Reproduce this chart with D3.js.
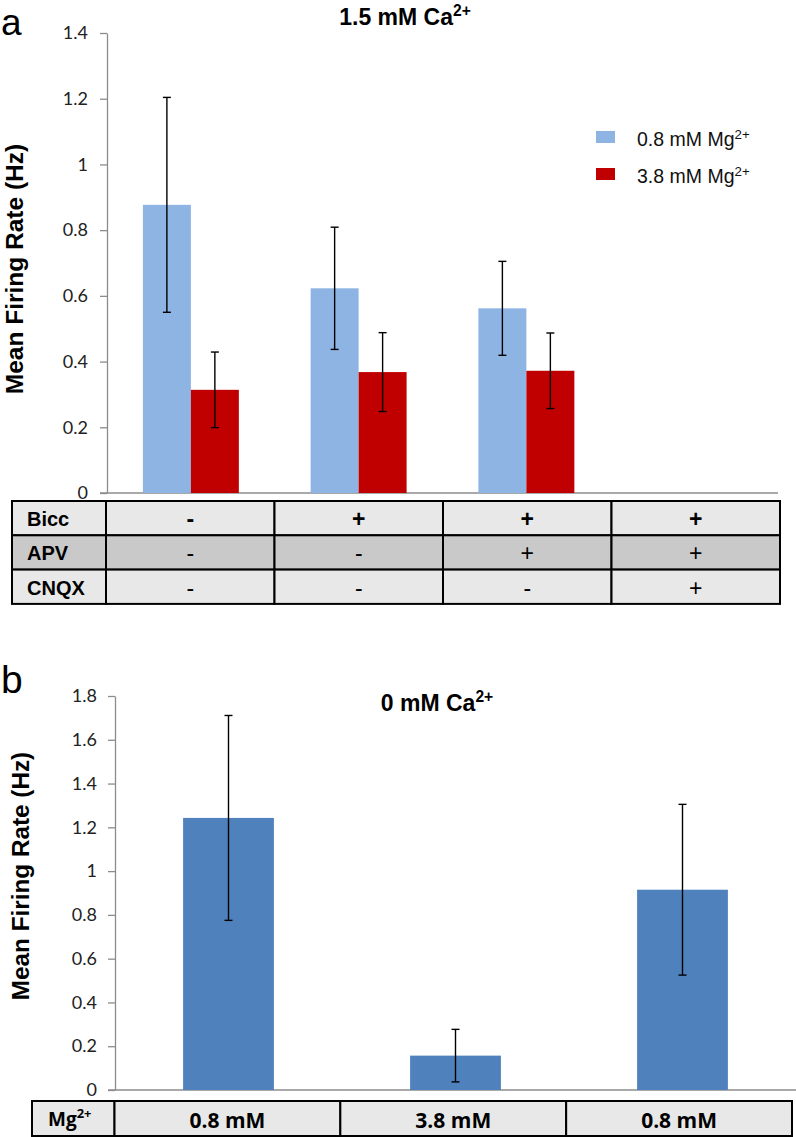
<!DOCTYPE html>
<html><head><meta charset="utf-8">
<script src="https://cdn.jsdelivr.net/npm/d3@7/dist/d3.min.js"></script>
<style>body{margin:0;background:#fff}svg{display:block}</style>
</head><body>
<svg id="c" width="796" height="1137"></svg>
<script>
// ---------- Panel a data ----------
const groupsA = ["G1", "G2", "G3", "G4"];
const seriesA = ["0.8 mM Mg", "3.8 mM Mg"];
const lowMg = [0.877, 0.623, 0.562, null];
const lowMgErr = [0.327, 0.186, 0.143, null];
const highMg = [0.314, 0.368, 0.372, null];
const highMgErr = [0.115, 0.120, 0.115, null];
const ticksA = [0, 0.2, 0.4, 0.6, 0.8, 1, 1.2, 1.4];
const rowLabelsA = ["Bicc", "APV", "CNQX"];
const biccRow = ["-", "+", "+", "+"];
const apvRow = ["-", "-", "+", "+"];
const cnqxRow = ["-", "-", "-", "+"];

// ---------- Panel b data ----------
const groupsB = ["0.8 mM", "3.8 mM", "0.8 mM"];
const valuesB = [1.243, 0.157, 0.915];
const errB = [0.468, 0.12, 0.39];
const ticksB = [0, 0.2, 0.4, 0.6, 0.8, 1, 1.2, 1.4, 1.6, 1.8];

const colLow = "#8db4e2", colHigh = "#c00000", colB = "#4f81bd";
const svg = d3.select("#c");
const fmt = d => String(+d.toFixed(1));
const tickFont = "Lato, 'Open Sans', sans-serif";
const arial = "Arial, 'Liberation Sans', sans-serif";

function supText(sel, base, sup, size) {
  sel.append("tspan").text(base);
  sel.append("tspan").text(sup).attr("font-size", size * 0.68).attr("dy", -size * 0.38);
}

// =============== Panel a ===============
{
  const x0 = 107, x1 = 778, yTop = 33, yBot = 493;
  const x = d3.scaleBand().domain(groupsA).range([x0, x1]).paddingInner(0.428).paddingOuter(0.214);
  const xs = d3.scaleBand().domain(seriesA).range([0, x.bandwidth()]);
  const y = d3.scaleLinear().domain([0, 1.4]).range([yBot, yTop]);

  const g = svg.append("g");
  const ax = g.append("g").attr("transform", `translate(${x0},0)`)
    .call(d3.axisLeft(y).tickValues(ticksA).tickFormat(fmt).tickSize(7).tickSizeOuter(0).tickPadding(12));
  ax.select(".domain").attr("stroke", "#8c8c8c").attr("stroke-width", 1.3);
  ax.selectAll(".tick line").attr("stroke", "#8c8c8c").attr("stroke-width", 1.3);
  ax.selectAll(".tick text").attr("font-family", tickFont).attr("font-size", 18).attr("fill", "#222");
  g.append("line").attr("x1", 100).attr("x2", x1).attr("y1", y(0)).attr("y2", y(0))
    .attr("stroke", "#8c8c8c").attr("stroke-width", 1.3);

  const series = [
    {key: seriesA[0], vals: lowMg, errs: lowMgErr, color: colLow},
    {key: seriesA[1], vals: highMg, errs: highMgErr, color: colHigh}
  ];
  series.forEach(s => {
    const data = groupsA.map((gname, i) => ({g: gname, v: s.vals[i], e: s.errs[i]})).filter(d => d.v != null);
    g.selectAll(null).data(data).enter().append("rect")
      .attr("x", d => x(d.g) + xs(s.key)).attr("width", xs.bandwidth())
      .attr("y", d => y(d.v)).attr("height", d => y(0) - y(d.v)).attr("fill", s.color);
    const eg = g.selectAll(null).data(data).enter().append("g")
      .attr("stroke", "#000").attr("stroke-width", 1.4);
    const cx = d => x(d.g) + xs(s.key) + xs.bandwidth() / 2;
    eg.append("line").attr("x1", cx).attr("x2", cx).attr("y1", d => y(d.v + d.e)).attr("y2", d => y(d.v - d.e));
    eg.append("line").attr("x1", d => cx(d) - 4).attr("x2", d => cx(d) + 4).attr("y1", d => y(d.v + d.e)).attr("y2", d => y(d.v + d.e));
    eg.append("line").attr("x1", d => cx(d) - 4).attr("x2", d => cx(d) + 4).attr("y1", d => y(d.v - d.e)).attr("y2", d => y(d.v - d.e));
  });

  // legend
  series.forEach((s, i) => {
    const ly = 131 + i * 37;
    g.append("rect").attr("x", 596).attr("y", ly).attr("width", 19).attr("height", 12).attr("fill", s.color);
    const t = g.append("text").attr("x", 637).attr("y", ly + 15).attr("font-family", arial)
      .attr("font-size", 19.5).attr("fill", "#111");
    supText(t, s.key, "2+", 19.5);
  });

  // title
  const tt = g.append("text").attr("x", 405).attr("y", 25).attr("text-anchor", "middle")
    .attr("font-family", arial).attr("font-weight", "bold").attr("font-size", 23);
  supText(tt, "1.5 mM Ca", "2+", 23);
  g.append("text").attr("x", 1).attr("y", 35).attr("font-family", arial)
    .attr("font-size", 37).text("a");
  g.append("text").attr("transform", "translate(14,269) rotate(-90)").attr("text-anchor", "middle")
    .attr("dominant-baseline", "central").attr("font-family", arial)
    .attr("font-weight", "bold").attr("font-size", 24.5).text("Mean Firing Rate (Hz)");

  // table
  const rowsA = [biccRow, apvRow, cnqxRow];
  const rowFills = ["#e8e8e8", "#c9c9c9", "#e8e8e8"];
  const tTop = 501, rh = 34.3, tLeft = 12, labW = 106;
  const colX = d3.scaleBand().domain(groupsA).range([labW, 780]);
  rowsA.forEach((row, r) => {
    const ry = tTop + r * rh;
    g.append("rect").attr("x", tLeft).attr("y", ry).attr("width", labW - tLeft).attr("height", rh)
      .attr("fill", rowFills[r]).attr("stroke", "#000").attr("stroke-width", 2);
    g.append("text").attr("x", 27).attr("y", ry + rh / 2 + 1).attr("dominant-baseline", "central")
      .attr("font-family", arial).attr("font-weight", "bold").attr("font-size", 20)
      .text(rowLabelsA[r]);
    groupsA.forEach((gname, i) => {
      g.append("rect").attr("x", colX(gname)).attr("y", ry).attr("width", colX.bandwidth()).attr("height", rh)
        .attr("fill", rowFills[r]).attr("stroke", "#000").attr("stroke-width", 2);
      g.append("text").attr("x", colX(gname) + colX.bandwidth() / 2).attr("y", ry + rh / 2 + 1)
        .attr("text-anchor", "middle").attr("dominant-baseline", "central")
        .attr("font-family", arial).attr("font-weight", r === 0 ? "bold" : "normal")
        .attr("font-size", 23).text(row[i]);
    });
  });
}

// =============== Panel b ===============
{
  const x0 = 115, x1 = 796, yTop = 696, yBot = 1090;
  const idx = groupsB.map((d, i) => i);
  const x = d3.scaleBand().domain(idx).range([x0, x1]).paddingInner(0.6).paddingOuter(0.3);
  const y = d3.scaleLinear().domain([0, 1.8]).range([yBot, yTop]);
  const g = svg.append("g");
  const ax = g.append("g").attr("transform", `translate(${x0},0)`)
    .call(d3.axisLeft(y).tickValues(ticksB).tickFormat(fmt).tickSize(7).tickSizeOuter(0).tickPadding(11));
  ax.select(".domain").attr("stroke", "#8c8c8c").attr("stroke-width", 1.3);
  ax.selectAll(".tick line").attr("stroke", "#8c8c8c").attr("stroke-width", 1.3);
  ax.selectAll(".tick text").attr("font-family", tickFont).attr("font-size", 18).attr("fill", "#222");
  g.append("line").attr("x1", 108).attr("x2", x1).attr("y1", y(0)).attr("y2", y(0))
    .attr("stroke", "#8c8c8c").attr("stroke-width", 1.3);

  const data = idx.map(i => ({i, v: valuesB[i], e: errB[i]}));
  g.selectAll(null).data(data).enter().append("rect")
    .attr("x", d => x(d.i)).attr("width", x.bandwidth())
    .attr("y", d => y(d.v)).attr("height", d => y(0) - y(d.v)).attr("fill", colB);
  const cx = d => x(d.i) + x.bandwidth() / 2;
  const eg = g.selectAll(null).data(data).enter().append("g").attr("stroke", "#000").attr("stroke-width", 1.4);
  eg.append("line").attr("x1", cx).attr("x2", cx).attr("y1", d => y(d.v + d.e)).attr("y2", d => y(d.v - d.e));
  eg.append("line").attr("x1", d => cx(d) - 4).attr("x2", d => cx(d) + 4).attr("y1", d => y(d.v + d.e)).attr("y2", d => y(d.v + d.e));
  eg.append("line").attr("x1", d => cx(d) - 4).attr("x2", d => cx(d) + 4).attr("y1", d => y(d.v - d.e)).attr("y2", d => y(d.v - d.e));

  const tt = g.append("text").attr("x", 437).attr("y", 711).attr("text-anchor", "middle")
    .attr("font-family", arial).attr("font-weight", "bold").attr("font-size", 23);
  supText(tt, "0 mM Ca", "2+", 23);
  g.append("text").attr("x", 1).attr("y", 693).attr("font-family", arial)
    .attr("font-size", 39).text("b");
  g.append("text").attr("transform", "translate(20,876) rotate(-90)").attr("text-anchor", "middle")
    .attr("dominant-baseline", "central").attr("font-family", arial)
    .attr("font-weight", "bold").attr("font-size", 24.3).text("Mean Firing Rate (Hz)");

  // table
  const tTop = 1101, rh = 35, tLeft = 32, labW = 114.5;
  const colX = d3.scaleBand().domain(idx).range([labW, 792]);
  g.append("rect").attr("x", tLeft).attr("y", tTop).attr("width", labW - tLeft).attr("height", rh)
    .attr("fill", "#e8e8e8").attr("stroke", "#000").attr("stroke-width", 2);
  const lt = g.append("text").attr("x", 48).attr("y", tTop + rh / 2 + 7)
    .attr("font-family", "'Open Sans', Lato, sans-serif").attr("font-weight", "bold").attr("font-size", 19);
  supText(lt, "Mg", "2+", 19);
  idx.forEach(i => {
    g.append("rect").attr("x", colX(i)).attr("y", tTop).attr("width", colX.bandwidth()).attr("height", rh)
      .attr("fill", "#e8e8e8").attr("stroke", "#000").attr("stroke-width", 2);
    g.append("text").attr("x", colX(i) + colX.bandwidth() / 2).attr("y", tTop + rh / 2 + 1)
      .attr("text-anchor", "middle").attr("dominant-baseline", "central")
      .attr("font-family", "'Open Sans', Lato, sans-serif").attr("font-weight", "bold").attr("font-size", 21)
      .text(groupsB[i]);
  });
}
</script>
</body></html>
